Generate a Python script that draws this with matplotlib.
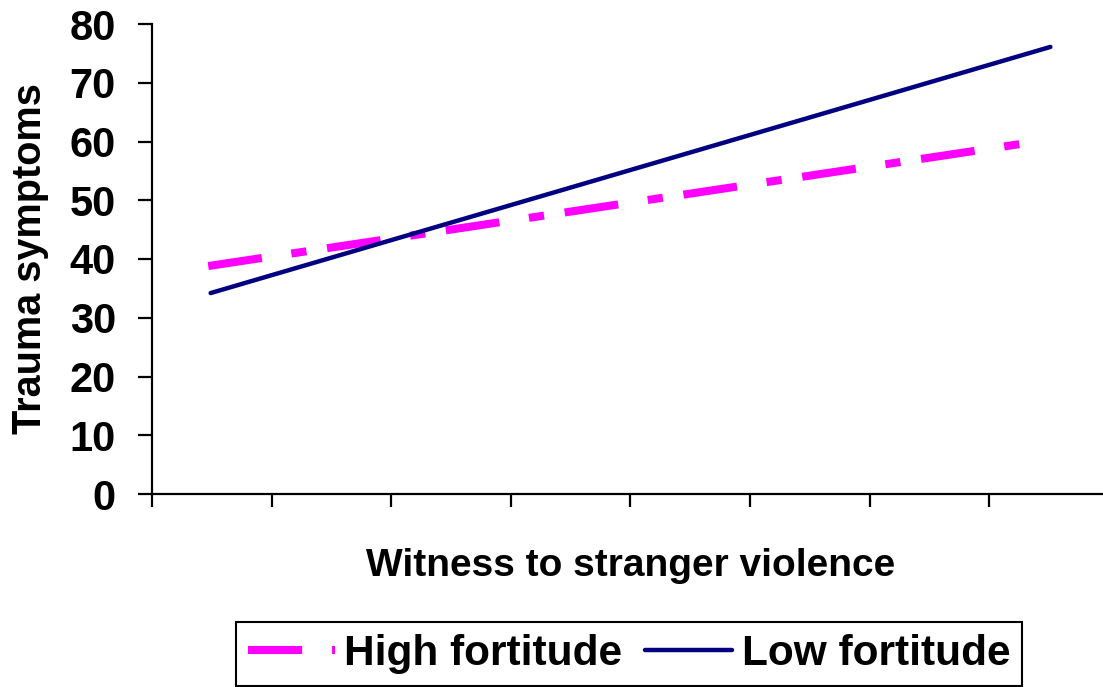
import matplotlib.pyplot as plt

plt.rcParams['font.family'] = ['Liberation Sans', 'DejaVu Sans']
plt.rcParams['font.weight'] = 'bold'
plt.rcParams['lines.scale_dashes'] = False

# data
x_high = [0.47, 7.30]
y_high = [38.8, 59.7]
x_low = [0.49, 7.51]
y_low = [34.2, 76.1]
series_names = ['High fortitude', 'Low fortitude']
y_ticks = [0, 10, 20, 30, 40, 50, 60, 70, 80]
x_ticks = [0, 1, 2, 3, 4, 5, 6, 7, 8]

fig = plt.figure(figsize=[11.03, 6.87], dpi=100, facecolor='white')
ax = fig.add_axes([152/1103, 193/687, 957/1103, 470/687])

ax.plot(x_high, y_high, color='#FF00FF', linewidth=5.8,
        linestyle=(0, (39, 21.5, 11, 15)), dash_capstyle='butt',
        label=series_names[0])
ax.plot(x_low, y_low, color='#000080', linewidth=3.2,
        solid_capstyle='round', label=series_names[1])

ax.set_xlim(0, 8)
ax.set_ylim(0, 80)
ax.set_xticks(x_ticks)
ax.set_xticklabels([])
ax.set_yticks(y_ticks)
ax.set_yticklabels([str(v) for v in y_ticks], fontsize=30, fontweight='bold')

for side in ['top', 'right']:
    ax.spines[side].set_visible(False)
for side in ['left', 'bottom']:
    ax.spines[side].set_linewidth(1.6)
    ax.spines[side].set_color('black')
ax.tick_params(axis='y', direction='out', length=10, width=1.6, pad=16)
ax.tick_params(axis='x', direction='out', length=9, width=1.6)

ax.set_ylabel('Trauma symptoms', fontsize=28.5, fontweight='bold')
ax.set_xlabel('Witness to stranger violence', fontsize=28, fontweight='bold')
ax.yaxis.set_label_coords(-0.108, 0.5)
ax.xaxis.set_label_coords(0.5, -0.115)

leg = fig.legend(loc='lower center', bbox_to_anchor=(629/1103, 0.0), ncol=2,
                 fontsize=30.5, frameon=True, fancybox=False, framealpha=1,
                 handlelength=2.05, handletextpad=0.22, columnspacing=0.55,
                 borderpad=0.28, borderaxespad=0.03)
leg.get_frame().set_edgecolor('black')
leg.get_frame().set_linewidth(1.5)
for t in leg.get_texts():
    t.set_fontweight('bold')

plt.savefig('out.png', dpi=100, facecolor='white')
plt.close()
